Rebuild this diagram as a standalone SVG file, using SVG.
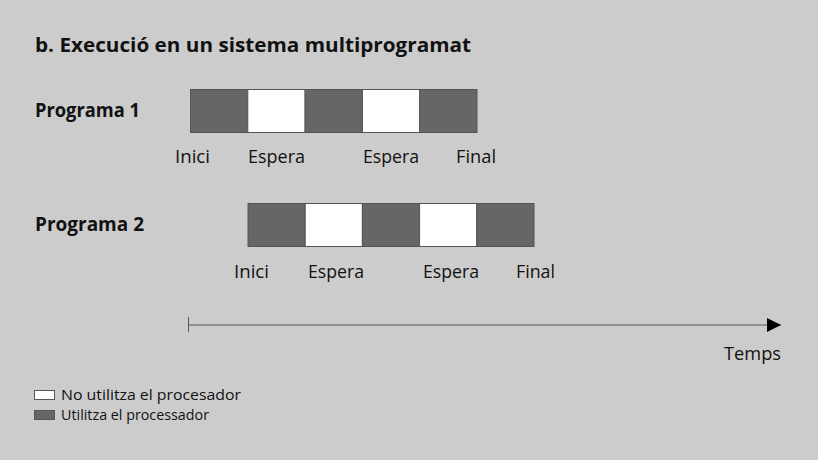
<svg xmlns="http://www.w3.org/2000/svg" width="820" height="462" viewBox="0 0 820 462">
<style>
  .t { font-family: "Open Sans", "Noto Sans", "DejaVu Sans", sans-serif; fill: #111; }
  .b { font-weight: bold; font-size: 19.5px; }
  .l { font-size: 18.5px; }
  .s { font-size: 14.5px; }
  .d { fill: #666666; stroke: #555555; stroke-width: 1; }
  .w { fill: #ffffff; stroke: #555555; stroke-width: 1; }
</style>
<defs>
  <marker id="arr" viewBox="0 0 14 14" refX="14" refY="7" markerWidth="14" markerHeight="14" markerUnits="userSpaceOnUse" orient="auto">
    <path d="M0,0 L14,7 L0,14 Z" fill="#000"/>
  </marker>
</defs>
<rect x="0" y="0" width="820" height="462" fill="#ffffff"/>
<rect x="0" y="0" width="818" height="460" fill="#cccccc"/>

<text class="t b" x="35" y="52" textLength="436" lengthAdjust="spacingAndGlyphs">b. Execució en un sistema multiprogramat</text>

<g id="programa1">
  <text class="t b" x="35" y="117" textLength="105" lengthAdjust="spacingAndGlyphs">Programa 1</text>
  <rect class="d" x="190.5" y="89.5" width="57.3" height="43"/>
  <rect class="w" x="247.8" y="89.5" width="57.3" height="43"/>
  <rect class="d" x="305.1" y="89.5" width="57.3" height="43"/>
  <rect class="w" x="362.4" y="89.5" width="57.3" height="43"/>
  <rect class="d" x="419.7" y="89.5" width="57.3" height="43"/>
  <text class="t l" x="175" y="163" textLength="35" lengthAdjust="spacingAndGlyphs">Inici</text>
  <text class="t l" x="248" y="163" textLength="57" lengthAdjust="spacingAndGlyphs">Espera</text>
  <text class="t l" x="363" y="163" textLength="56" lengthAdjust="spacingAndGlyphs">Espera</text>
  <text class="t l" x="456" y="163" textLength="40" lengthAdjust="spacingAndGlyphs">Final</text>
</g>

<g id="programa2">
  <text class="t b" x="35" y="231" textLength="109" lengthAdjust="spacingAndGlyphs">Programa 2</text>
  <rect class="d" x="248" y="203.5" width="57.2" height="43"/>
  <rect class="w" x="305.2" y="203.5" width="57.2" height="43"/>
  <rect class="d" x="362.4" y="203.5" width="57.2" height="43"/>
  <rect class="w" x="419.6" y="203.5" width="57.2" height="43"/>
  <rect class="d" x="476.8" y="203.5" width="57.2" height="43"/>
  <text class="t l" x="234" y="278" textLength="35" lengthAdjust="spacingAndGlyphs">Inici</text>
  <text class="t l" x="308" y="278" textLength="56" lengthAdjust="spacingAndGlyphs">Espera</text>
  <text class="t l" x="423" y="278" textLength="56" lengthAdjust="spacingAndGlyphs">Espera</text>
  <text class="t l" x="516" y="278" textLength="39" lengthAdjust="spacingAndGlyphs">Final</text>
</g>

<g id="connectors">
  <line x1="188.5" y1="317" x2="188.5" y2="332" stroke="#555555" stroke-width="1"/>
  <line x1="188.5" y1="325" x2="781" y2="325" stroke="#555555" stroke-width="1" marker-end="url(#arr)"/>
</g>
<text class="t l" x="781" y="360" text-anchor="end" textLength="57" lengthAdjust="spacingAndGlyphs">Temps</text>

<g id="legend">
  <rect class="w" x="34.5" y="390.5" width="20" height="9"/>
  <text class="t s" x="61" y="400" textLength="180" lengthAdjust="spacingAndGlyphs">No utilitza el procesador</text>
  <rect class="d" x="34.5" y="410.5" width="20" height="9"/>
  <text class="t s" x="61" y="420" textLength="148" lengthAdjust="spacingAndGlyphs">Utilitza el processador</text>
</g>
</svg>
